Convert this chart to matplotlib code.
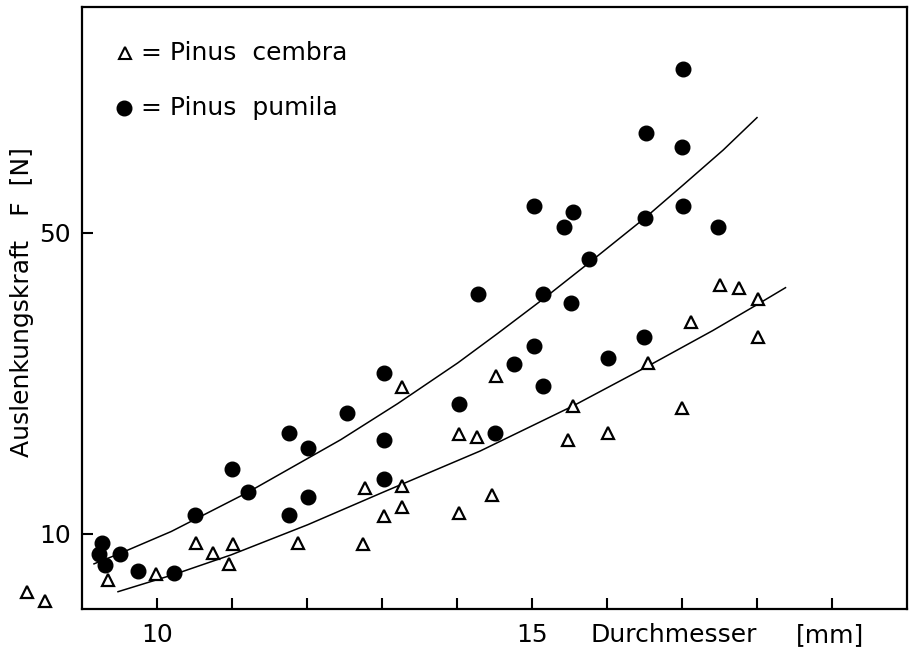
import matplotlib
matplotlib.use('Agg')
import matplotlib.pyplot as plt
import numpy as np

# Pinus cembra (open triangles)
cembra_d = [8.27, 8.51, 9.35, 9.99, 10.52, 10.75, 10.96, 11.01, 11.88, 12.75,
            12.77, 13.02, 13.27, 13.27, 13.27, 14.02, 14.26, 14.02, 14.47, 14.52,
            15.48, 15.55, 16.01, 16.55, 17.00, 17.12, 17.50, 17.76, 18.01, 18.01]
cembra_f = [2.3, 1.1, 3.9, 4.7, 8.8, 7.5, 6.0, 8.7, 8.8, 8.7,
            16.1, 12.4, 13.5, 16.3, 29.5, 23.3, 22.8, 12.7, 15.2, 30.9,
            22.5, 27.0, 23.4, 32.7, 26.7, 38.2, 43.1, 42.7, 41.2, 36.2]

# Pinus pumila (filled circles)
pumila_d = [9.23, 9.26, 9.30, 9.51, 9.75, 10.23, 10.51, 11.00, 11.21, 11.76,
            11.76, 12.01, 12.01, 12.53, 13.02, 13.02, 13.02, 14.02, 14.28, 14.51,
            14.76, 15.03, 15.02, 15.15, 15.14, 15.42, 15.52, 15.55, 15.76, 16.01,
            16.49, 16.52, 16.51, 17.01, 17.00, 17.01, 17.48]
pumila_f = [7.3, 8.8, 5.8, 7.3, 5.0, 4.8, 12.5, 18.6, 15.5, 23.4,
            12.5, 21.4, 14.9, 26.0, 31.4, 22.4, 17.3, 27.3, 41.8, 23.4,
            32.5, 53.5, 34.9, 41.8, 29.7, 50.8, 40.7, 52.7, 46.5, 33.4,
            36.2, 63.3, 52.0, 71.7, 61.4, 53.5, 50.8]

# fitted curves
fit_pumila_d = [9.16, 9.51, 10.19, 11.21, 12.45, 13.21, 14.01, 14.54, 15.15,
                15.76, 16.51, 17.01, 17.55, 18.00]
fit_pumila_f = [6.0, 7.4, 10.3, 15.5, 22.5, 27.3, 32.7, 36.6, 41.2,
                46.0, 52.0, 56.3, 61.0, 65.3]
fit_cembra_d = [9.48, 10.23, 10.99, 12.01, 13.01, 14.31, 15.55, 16.55, 17.41,
                18.01, 18.38]
fit_cembra_f = [2.3, 4.6, 7.2, 11.2, 15.5, 21.0, 27.0, 32.3, 37.0,
                40.5, 42.7]

fs = 18

fig = plt.figure(figsize=(9.15, 6.49), dpi=100)
ax = fig.add_axes([82/915, 1 - 609/649, 825/915, 602/649])

ax.plot(fit_pumila_d, fit_pumila_f, color='black', lw=1.1)
ax.plot(fit_cembra_d, fit_cembra_f, color='black', lw=1.1)

ax.plot(cembra_d, cembra_f, linestyle='none', marker='^', ms=9,
        mfc='white', mec='black', mew=1.6, clip_on=False, zorder=3)
ax.plot(pumila_d, pumila_f, linestyle='none', marker='o', ms=10.5,
        color='black', clip_on=False, zorder=3)

ax.set_xlim(9, 20)
ax.set_ylim(0, 80)

ax.set_xticks(np.arange(10, 20))
ax.set_xticklabels(['10', '', '', '', '', '15', '', '', '', ''])
ax.set_yticks([10, 50])
ax.set_yticklabels(['10', '50'])
ax.tick_params(axis='both', direction='in', length=8, width=1.5,
               labelsize=fs)
ax.tick_params(axis='x', pad=10)
ax.tick_params(axis='y', pad=8)

for s in ax.spines.values():
    s.set_linewidth(1.6)

# axis titles
fig.text(22/915, 1 - 302/649, 'Auslenkungskraft   F  [N]', rotation=90,
         ha='center', va='center', fontsize=fs)
ax.text(16.89, -0.043, 'Durchmesser', transform=ax.get_xaxis_transform(),
        ha='center', va='center', fontsize=fs)
ax.text(18.98, -0.043, '[mm]', transform=ax.get_xaxis_transform(),
        ha='center', va='center', fontsize=fs)

# legend drawn by hand
ax.plot([0.052], [0.9236], transform=ax.transAxes, marker='^', ms=8,
        mfc='white', mec='black', mew=1.5, linestyle='none')
ax.plot([0.051], [0.832], transform=ax.transAxes, marker='o', ms=10.5,
        color='black', linestyle='none')
ax.text(0.072, 0.9236, '= Pinus  cembra', transform=ax.transAxes,
        ha='left', va='center', fontsize=fs)
ax.text(0.072, 0.832, '= Pinus  pumila', transform=ax.transAxes,
        ha='left', va='center', fontsize=fs)

plt.savefig('out.png', dpi=100)
plt.close(fig)
